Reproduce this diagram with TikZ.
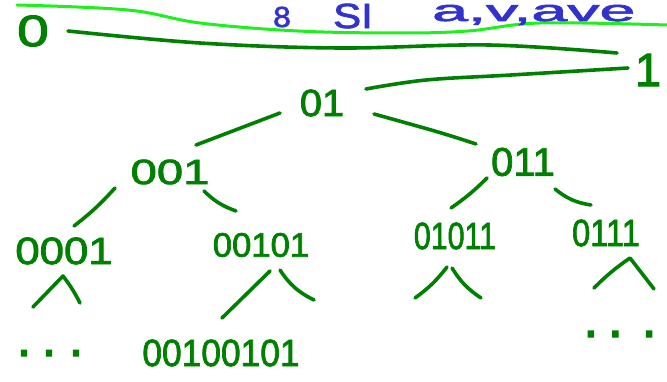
\documentclass[tikz,border=0pt]{standalone}
\usepackage{fontspec}
\usepackage{graphicx}
\setmainfont{Liberation Sans}
\newfontfamily\hwf{Liberation Sans}[FakeBold=2]
\definecolor{pen}{RGB}{0,128,0}
\definecolor{hl}{RGB}{30,240,30}
\definecolor{bpen}{RGB}{50,50,205}
\newcommand\hw[3]{\scalebox{#2}[1]{\hwf\fontsize{#1}{#1}\selectfont #3}}
\begin{document}
\begin{tikzpicture}[x=1pt,y=-1pt,
  stroke/.style={pen,line width=3.6pt,line cap=round,line join=round},
  lbl/.style={pen,inner sep=0pt,anchor=center},
  blbl/.style={bpen,inner sep=0pt}]
\useasboundingbox (0,0) rectangle (667,382);
\clip (0,0) rectangle (667,382);
% highlight stroke
\draw[hl,line width=3pt,line cap=round] plot[smooth,tension=0.6] coordinates {(17,5) (128,10) (200,23) (298,31) (400,33) (468,31) (540,23) (667,25)};
% blue notes
\node[blbl] (b8) at (282,17) {\hw{29}{1.1}{8}};
\node[blbl] (bsi) at (353,16) {\hw{35}{1.2}{SI}};
\node[blbl,anchor=base west] (bav) at (432,21) {\hw{30}{2.15}{a,v,ave}};
% labels
\node[lbl] (n0) at (33,31) {\hw{44}{1.3}{0}};
\node[lbl] (n1) at (648,70) {\hw{47}{1}{1}};
\node[lbl] (n01) at (322,103) {\hw{38}{1.05}{01}};
\node[lbl] (n001) at (170,172) {\hw{35}{1.35}{001}};
\node[lbl] (n011) at (523,162) {\hw{40}{1.0}{011}};
\node[lbl] (n0001) at (64,251) {\hw{38}{1.15}{0001}};
\node[lbl] (n00101) at (261,245) {\hw{34}{1.02}{00101}};
\node[lbl] (n01011) at (455,236) {\hw{38}{0.8}{01011}};
\node[lbl] (n0111) at (606,233) {\hw{38}{0.86}{0111}};
\node[lbl] (n00100101) at (221,353) {\hw{38}{0.93}{00100101}};
\node[lbl,anchor=base] (dl) at (50,356) {\hwf\fontsize{54}{54}\selectfont .\hspace{10pt}.\hspace{12pt}.};
\node[lbl,anchor=base] (dr) at (620,337) {\hwf\fontsize{56}{56}\selectfont .\hspace{9pt}.\hspace{18pt}.};
% long strokes
\coordinate (l0a) at (68,31); \coordinate (l0b) at (617,53);
\coordinate (l1a) at (366,89); \coordinate (l1b) at (628,68);
\draw[stroke] plot[smooth,tension=0.6] coordinates {(l0a) (200,43) (340,48) (489,45) (l0b)};
\draw[stroke] plot[smooth,tension=0.6] coordinates {(l1a) (426,80) (511,75) (l1b)};
% tree edges
\coordinate (e1a) at (280,113); \coordinate (e1b) at (196,145);
\draw[stroke] (e1a) -- (e1b);
\coordinate (e2a) at (374,114); \coordinate (e2b) at (476,144);
\draw[stroke] plot[smooth,tension=0.6] coordinates {(e2a) (438,132) (e2b)};
\coordinate (e3a) at (115,188); \coordinate (e3b) at (74,226);
\draw[stroke] (e3a) to[bend left=5] (e3b);
\coordinate (e4a) at (204,191); \coordinate (e4b) at (236,211);
\draw[stroke] (e4a) to[bend right=12] (e4b);
\coordinate (e5a) at (487,178); \coordinate (e5b) at (451,208);
\draw[stroke] (e5a) to[bend left=5] (e5b);
\coordinate (e6a) at (555,189); \coordinate (e6b) at (591,205);
\draw[stroke] (e6a) to[bend right=15] (e6b);
% lower strokes
\coordinate (c1l) at (33,307); \coordinate (c1t) at (63,276); \coordinate (c1r) at (80,303);
\draw[stroke] (c1l) -- (c1t) to[bend left=5] (c1r);
\coordinate (c2a) at (270,271); \coordinate (c2b) at (222,318);
\draw[stroke] (c2a) -- (c2b);
\coordinate (c2c) at (280,270); \coordinate (c2d) at (314,300);
\draw[stroke] (c2c) to[bend right=15] (c2d);
\coordinate (c3a) at (447,267); \coordinate (c3b) at (415,298);
\draw[stroke] (c3a) to[bend left=8] (c3b);
\coordinate (c3c) at (452,268); \coordinate (c3d) at (481,298);
\draw[stroke] (c3c) to[bend right=12] (c3d);
\coordinate (c4l) at (594,288); \coordinate (c4t) at (630,258); \coordinate (c4r) at (654,289);
\draw[stroke] (c4l) to[bend left=5] (c4t) -- (c4r);
\end{tikzpicture}
\end{document}
